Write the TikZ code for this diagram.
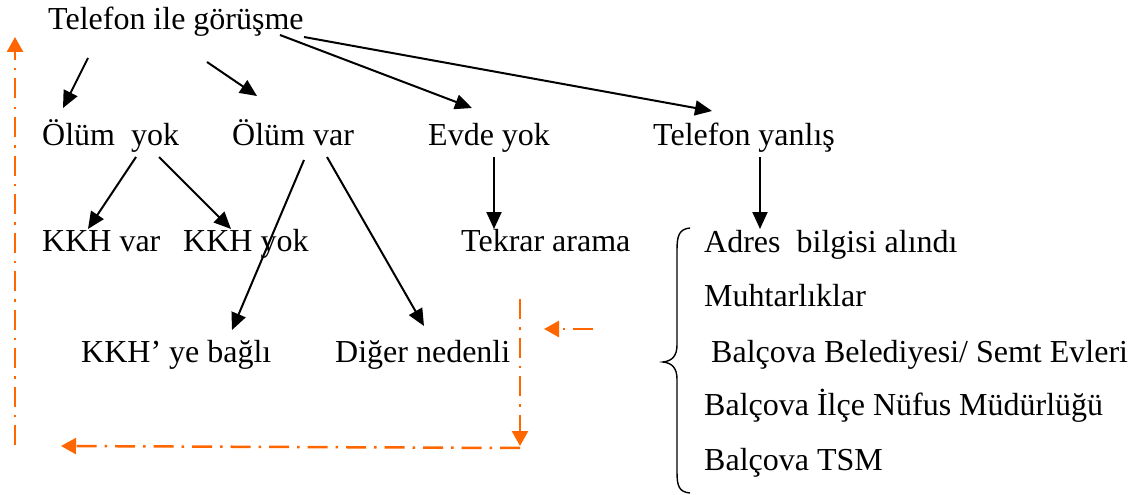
\documentclass[tikz,border=0pt]{standalone}
\usepackage{fontspec}
\setmainfont{Liberation Serif}
\newfontfamily\tnr{Liberation Serif}
\usetikzlibrary{arrows.meta}
\definecolor{orng}{RGB}{255,102,0}
\begin{document}
\begin{tikzpicture}[x=1pt,y=-1pt,
  lbl/.style={anchor=base west,inner sep=0pt,font=\tnr\fontsize{32}{36}\selectfont},
  arr/.style={line width=2pt,-{Triangle[length=17pt,width=15pt]}},
  oarr/.style={draw=orng,line width=2.5pt,dash pattern=on 20pt off 8pt on 2.5pt off 8pt,-{Triangle[length=15pt,width=16pt,fill=orng]},color=orng},
  brc/.style={line width=1.4pt}]
\useasboundingbox (0,0) rectangle (1136,495);
% texts
\node[lbl] (tel) at (48,30) {Telefon ile görüşme};
\node[lbl] (oy) at (42,145) {Ölüm\ \ yok};
\node[lbl] (ov) at (232,145) {Ölüm var};
\node[lbl] (ey) at (428,145) {Evde yok};
\node[lbl] (ty) at (653,145) {Telefon yanlış};
\node[lbl] (kv) at (42,251) {KKH var};
\node[lbl] (kyo) at (183,251) {KKH yok};
\node[lbl] (ta) at (461,251) {Tekrar arama};
\node[lbl] (kb) at (81,362) {KKH’ ye bağlı};
\node[lbl] (dn) at (335,362) {Diğer nedenli};
\node[lbl] (l1) at (704,252) {Adres\ \ bilgisi alındı};
\node[lbl] (l2) at (704,306) {Muhtarlıklar};
\node[lbl] (l3) at (711,362) {Balçova Belediyesi/ Semt Evleri};
\node[lbl] (l4) at (704,415) {Balçova İlçe Nüfus Müdürlüğü};
\node[lbl] (l5) at (704,470) {Balçova TSM};
% connector end points
\coordinate (a1s) at (88,58);   \coordinate (a1e) at (63,108);
\coordinate (a2s) at (207,62);  \coordinate (a2e) at (257,96);
\coordinate (a3s) at (280,35);  \coordinate (a3e) at (472,108);
\coordinate (a4s) at (304,37);  \coordinate (a4e) at (712,111);
\coordinate (a5s) at (136,157); \coordinate (a5e) at (88,229);
\coordinate (a6s) at (159,157); \coordinate (a6e) at (231,229);
\coordinate (a7s) at (304,160); \coordinate (a7e) at (232,330);
\coordinate (a8s) at (327,157); \coordinate (a8e) at (424,326);
\coordinate (a9s) at (494,157); \coordinate (a9e) at (494,229);
\coordinate (a10s) at (760,157); \coordinate (a10e) at (760,229);
\draw[arr] (a1s) -- (a1e);
\draw[arr] (a2s) -- (a2e);
\draw[arr] (a3s) -- (a3e);
\draw[arr] (a4s) -- (a4e);
\draw[arr] (a5s) -- (a5e);
\draw[arr] (a6s) -- (a6e);
\draw[arr] (a7s) -- (a7e);
\draw[arr] (a8s) -- (a8e);
\draw[arr] (a9s) -- (a9e);
\draw[arr] (a10s) -- (a10e);
% orange dash-dot feedback
\coordinate (o1s) at (593,329); \coordinate (o1e) at (544,329);
\coordinate (o2s) at (520,299); \coordinate (o2e) at (520,446);
\coordinate (o3s) at (520,448); \coordinate (o3e) at (61,446);
\coordinate (o4s) at (15,445);  \coordinate (o4e) at (15,37);
\draw[oarr] (o1s) -- (o1e);
\draw[oarr] (o2s) -- (o2e);
\draw[oarr] (o3s) -- (o3e);
\draw[oarr] (o4s) -- (o4e);
% brace
\draw[brc] (690,228) .. controls (679,229) and (677,236) .. (677,250)
  -- (677,345) .. controls (677,356) and (672,361) .. (663,362)
  .. controls (672,363) and (677,368) .. (677,379)
  -- (677,472) .. controls (677,486) and (679,492) .. (690,493);
\end{tikzpicture}
\end{document}
